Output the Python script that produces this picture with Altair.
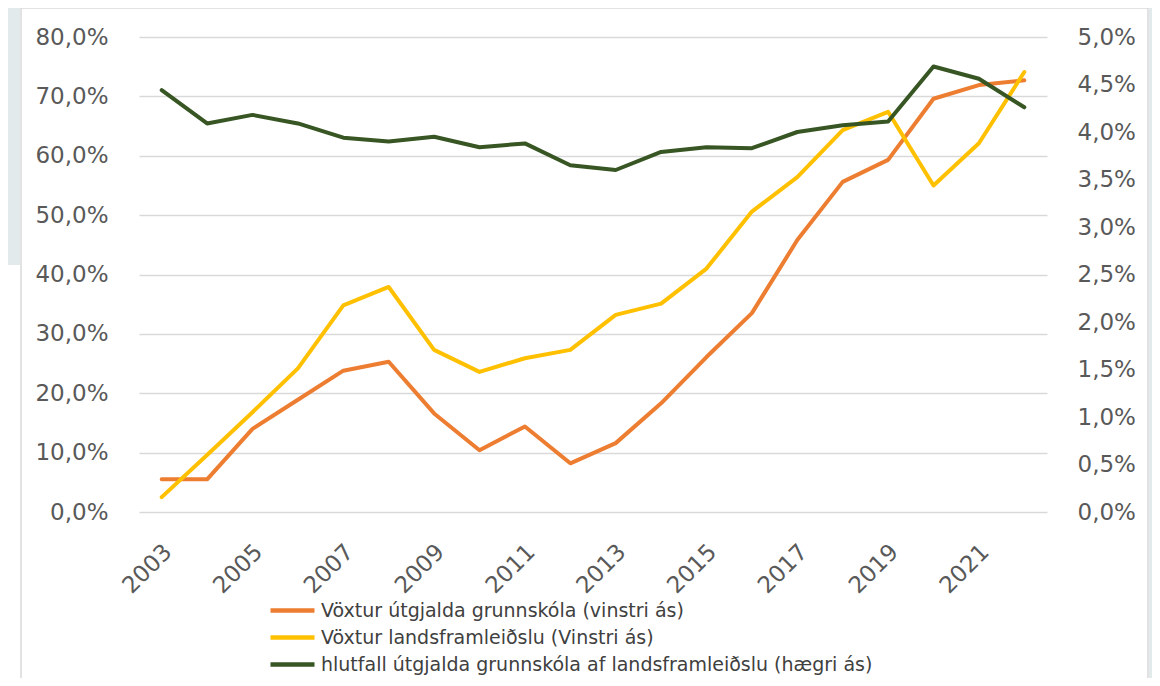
import altair as alt
import pandas as pd

years = list(range(2003, 2023))
voxtur_utgjalda = [5.5, 5.5, 14.0, 18.9, 23.8, 25.3, 16.6, 10.4, 14.4, 8.2,
                   11.6, 18.3, 26.1, 33.5, 45.8, 55.6, 59.3, 69.6, 71.9, 72.7]
voxtur_vlf = [2.5, 9.6, 16.8, 24.2, 34.8, 37.9, 27.3, 23.6, 25.9, 27.3,
              33.2, 35.1, 41.0, 50.6, 56.4, 64.3, 67.4, 55.0, 62.1, 74.1]
hlutfall = [4.44, 4.09, 4.18, 4.09, 3.94, 3.90, 3.95, 3.84, 3.88, 3.65,
            3.60, 3.79, 3.84, 3.83, 4.00, 4.07, 4.11, 4.69, 4.56, 4.26]

names = ["Vöxtur útgjalda grunnskóla (vinstri ás)",
         "Vöxtur landsframleiðslu (Vinstri ás)",
         "hlutfall útgjalda grunnskóla af landsframleiðslu (hægri ás)"]
colors = ["#ED7D31", "#FFC000", "#375623"]
x_label_years = [2003, 2005, 2007, 2009, 2011, 2013, 2015, 2017, 2019, 2021]
left_ticks = [0, 0.1, 0.2, 0.3, 0.4, 0.5, 0.6, 0.7, 0.8]
right_ticks = [0, 0.005, 0.01, 0.015, 0.02, 0.025, 0.03, 0.035, 0.04, 0.045, 0.05]

left_df = pd.DataFrame({
    "year": years * 2,
    "value": [v / 100 for v in voxtur_utgjalda] + [v / 100 for v in voxtur_vlf],
    "series": [names[0]] * len(years) + [names[1]] * len(years),
})
right_df = pd.DataFrame({
    "year": years,
    "value": [v / 100 for v in hlutfall],
    "series": [names[2]] * len(years),
})

FONT = "DejaVu Sans"
LBL = "#595959"
pct = "replace(format(datum.value, '.1%'), '.', ',')"

x_enc = alt.X("year:Q",
              scale=alt.Scale(domain=[2002.5, 2022.5], nice=False, zero=False),
              axis=alt.Axis(values=x_label_years, format="d", labelAngle=-45,
                            labelAlign="right", labelBaseline="middle",
                            labelPadding=36, labelOffset=6,
                            grid=False, ticks=False, domain=False, title=None,
                            labelFontSize=23, labelColor=LBL, labelFont=FONT))

color_enc = alt.Color("series:N",
                      scale=alt.Scale(domain=names, range=colors),
                      sort=names,
                      legend=alt.Legend(orient="none", legendX=129, legendY=560,
                                        title=None, symbolType="M-1,0H3",
                                        symbolStrokeWidth=4.5, symbolSize=484,
                                        symbolFillColor="transparent",
                                        labelFontSize=19, labelFont=FONT,
                                        labelColor="#404040", rowPadding=3,
                                        labelOffset=26, padding=0, labelLimit=900))

one = pd.DataFrame({"k": [0]})
frame = alt.Chart(one).mark_rect(
    fillOpacity=0, stroke="#d9d9d9", strokeWidth=1.5
).encode(x=alt.value(-118), x2=alt.value(1009), y=alt.value(-29), y2=alt.value(660))

left_strip = alt.Chart(one).mark_rect(fill="#e3eaec").encode(
    x=alt.value(-131), x2=alt.value(-119), y=alt.value(-29), y2=alt.value(228))
right_strip = alt.Chart(one).mark_rect(fill="#e3eaec").encode(
    x=alt.value(1010), x2=alt.value(1013), y=alt.value(-29), y2=alt.value(660))

left_lines = alt.Chart(left_df).mark_line(strokeWidth=4, strokeCap="round", strokeJoin="round").encode(
    x=x_enc,
    y=alt.Y("value:Q", scale=alt.Scale(domain=[0, 0.8], nice=False),
            axis=alt.Axis(values=left_ticks, labelExpr=pct, orient="left",
                          grid=True, gridColor="#d9d9d9", gridWidth=1.5,
                          ticks=False, domain=False, title=None,
                          labelFontSize=23, labelColor=LBL, labelFont=FONT,
                          labelPadding=31)),
    color=color_enc,
    order=alt.Order("year:Q"),
)

right_line = alt.Chart(right_df).mark_line(strokeWidth=4, strokeCap="round", strokeJoin="round").encode(
    x=x_enc,
    y=alt.Y("value:Q", scale=alt.Scale(domain=[0, 0.05], nice=False),
            axis=alt.Axis(values=right_ticks, labelExpr=pct, orient="right",
                          grid=False, ticks=False, domain=False, title=None,
                          labelFontSize=23, labelColor=LBL, labelFont=FONT,
                          labelPadding=30, labelAlign="left")),
    color=color_enc,
    order=alt.Order("year:Q"),
)

chart = alt.layer(frame, left_strip, right_strip, left_lines, right_line).resolve_scale(
    y="independent"
).properties(
    width=908, height=475,
    autosize=alt.AutoSizeParams(type="none"),
    padding={"left": 131, "top": 29, "right": 105, "bottom": 166},
    background="white",
).configure_view(stroke=None)

chart.save("out.html", embed_options={"renderer": "svg", "actions": False})
